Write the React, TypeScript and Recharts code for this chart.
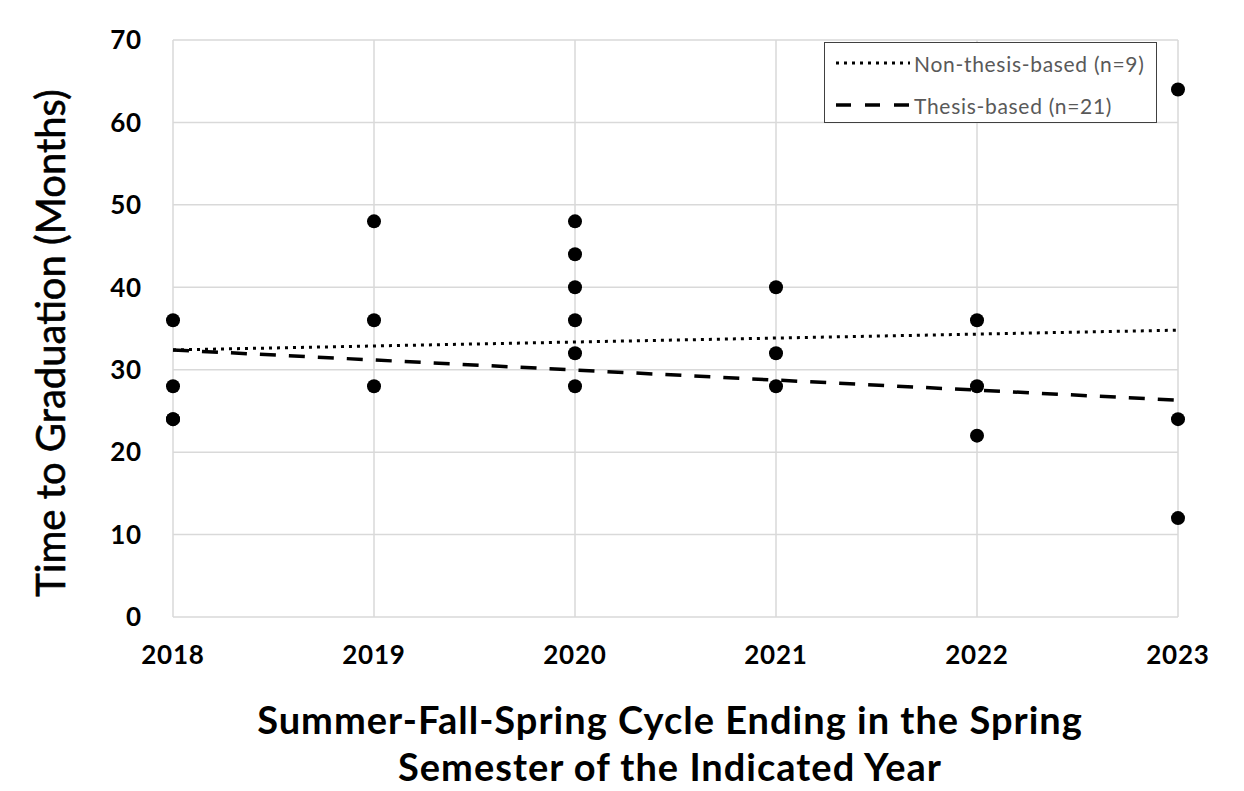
import React from "react";
import {
  ScatterChart,
  Scatter,
  XAxis,
  YAxis,
  CartesianGrid,
  Legend,
  Label,
} from "recharts";

// ---- data ----
const years = [2018, 2019, 2020, 2021, 2022, 2023];
const yTicks = [0, 10, 20, 30, 40, 50, 60, 70];

const months2018 = [36, 28, 24, 24];
const months2019 = [48, 36, 28];
const months2020 = [48, 44, 40, 36, 32, 28];
const months2021 = [40, 32, 28];
const months2022 = [36, 28, 22];
const months2023 = [64, 24, 12];

const trendYears = [2018, 2023];
const nonThesisTrend = [32.4, 34.8];
const thesisTrend = [32.4, 26.3];

const seriesNames = ["Non-thesis-based (n=9)", "Thesis-based (n=21)"];

// ---- derived tables ----
const monthsByYear = [months2018, months2019, months2020, months2021, months2022, months2023];
const points = years.flatMap((yr, i) => monthsByYear[i].map((m) => ({ x: yr, y: m })));
const nonThesisLine = trendYears.map((yr, i) => ({ x: yr, y: nonThesisTrend[i] }));
const thesisLine = trendYears.map((yr, i) => ({ x: yr, y: thesisTrend[i] }));

const FONT = "Lato, 'Open Sans', sans-serif";
const DOTTED = "3 5";
const DASHED = "16 13";

const Dot = (props: any) => (
  <circle cx={props.cx} cy={props.cy} r={7} fill="#000" />
);
const Empty = () => <g />;

const LegendBox = () => (
  <div
    style={{
      width: 333,
      height: 81,
      boxSizing: "border-box",
      border: "1.5px solid #404040",
      background: "#fff",
      position: "relative",
      fontFamily: FONT,
      fontSize: 21,
      letterSpacing: 0.7,
      color: "#595959",
    }}
  >
    {seriesNames.map((name, i) => (
      <div
        key={name}
        style={{
          position: "absolute",
          left: 10,
          top: i === 0 ? 7 : 49,
          height: 26,
          display: "flex",
          alignItems: "center",
          whiteSpace: "nowrap",
        }}
      >
        <svg width={76} height={24} style={{ display: "block" }}>
          <line
            x1={1}
            y1={12}
            x2={75}
            y2={12}
            stroke="#000"
            strokeWidth={i === 0 ? 3 : 3.5}
            strokeDasharray={i === 0 ? DOTTED : "15 14"}
          />
        </svg>
        <span style={{ marginLeft: 3 }}>{name}</span>
      </div>
    ))}
  </div>
);

export default function App() {
  return (
    <div style={{ position: "absolute", left: 0, top: 0, width: 1244, height: 791, background: "#fff" }}>
      <ScatterChart
        width={1244}
        height={791}
        margin={{ top: 40, right: 66, bottom: 114, left: 113 }}
      >
        <CartesianGrid stroke="#d9d9d9" strokeWidth={1.5} />
        <XAxis
          type="number"
          dataKey="x"
          domain={[2018, 2023]}
          ticks={years}
          interval={0}
          axisLine={false}
          tickLine={false}
          tickSize={0}
          tickMargin={29}
          height={60}
          tick={{ fontFamily: FONT, fontWeight: 700, fontSize: 26, letterSpacing: 0.8, fill: "#000" }}
        >
          <Label
            content={() => (
              <text
                x={670}
                textAnchor="middle"
                fontFamily={FONT}
                fontWeight={700}
                fontSize={38}
                letterSpacing={1}
                fill="#000"
              >
                <tspan x={670} y={734}>Summer-Fall-Spring Cycle Ending in the Spring</tspan>
                <tspan x={670} y={781}>Semester of the Indicated Year</tspan>
              </text>
            )}
          />
        </XAxis>
        <YAxis
          type="number"
          dataKey="y"
          domain={[0, 70]}
          ticks={yTicks}
          interval={0}
          axisLine={false}
          tickLine={false}
          tickSize={0}
          tickMargin={31}
          width={60}
          tick={{ fontFamily: FONT, fontWeight: 700, fontSize: 26, letterSpacing: 0.8, fill: "#000" }}
        >
          <Label
            content={() => (
              <text
                x={50}
                y={343}
                transform="rotate(-90 50 343)"
                textAnchor="middle"
                dominantBaseline="central"
                fontFamily={FONT}
                fontWeight={400}
                fontSize={40}
                fill="#000"
                stroke="#000"
                strokeWidth={0.6}
              >
                Time to Graduation (Months)
              </text>
            )}
          />
        </YAxis>
        <Legend
          layout="horizontal"
          verticalAlign="middle"
          align="center"
          content={() => <LegendBox />}
          wrapperStyle={{ position: "absolute", left: 824, top: 42, width: 333, height: 81, margin: 0 }}
        />
        <Scatter
          name={seriesNames[0]}
          data={nonThesisLine}
          line={{ stroke: "#000", strokeWidth: 3, strokeDasharray: DOTTED }}
          shape={Empty}
          legendType="none"
          isAnimationActive={false}
        />
        <Scatter
          name={seriesNames[1]}
          data={thesisLine}
          line={{ stroke: "#000", strokeWidth: 3.5, strokeDasharray: DASHED }}
          shape={Empty}
          legendType="none"
          isAnimationActive={false}
        />
        <Scatter
          name="points"
          data={points}
          shape={Dot}
          legendType="none"
          isAnimationActive={false}
        />
      </ScatterChart>
    </div>
  );
}
